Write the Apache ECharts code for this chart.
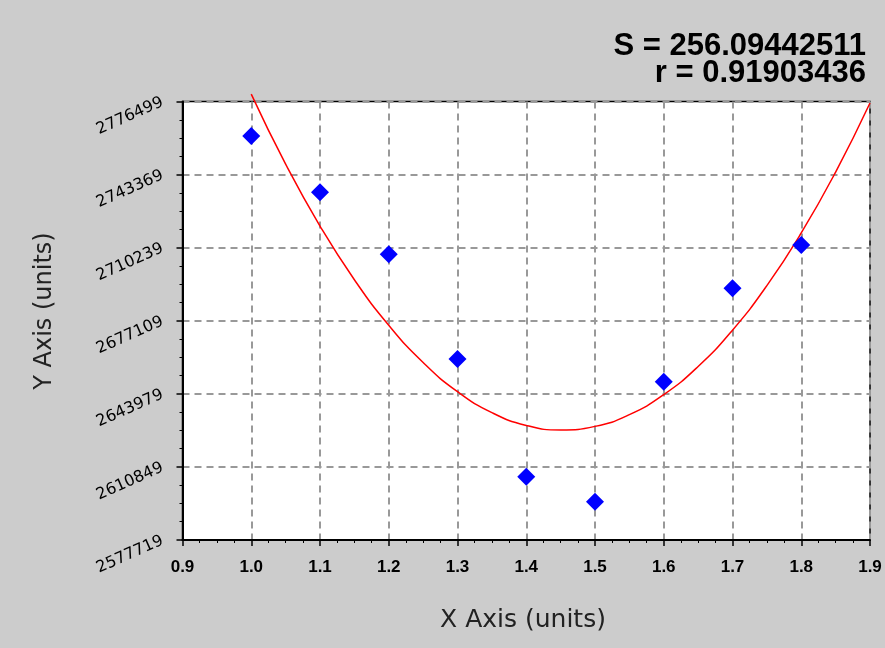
<!DOCTYPE html>
<html>
<head>
<meta charset="utf-8">
<script src="https://cdn.jsdelivr.net/npm/echarts@6/dist/echarts.min.js"></script>
<style>
html,body{margin:0;padding:0;background:#cccccc;}
#c{width:885px;height:648px;}
</style>
</head>
<body>
<div id="c"></div>
<script>
// Observed data points
var pointX = [1.0, 1.1, 1.2, 1.3, 1.4, 1.5, 1.6, 1.7, 1.8];
var pointY = [2760852, 2735331, 2707227, 2659766, 2606413, 2595080, 2649476, 2691815, 2711442];
// Fitted curve
var curveX = [1.0, 1.05, 1.1, 1.15, 1.2, 1.25, 1.3, 1.35, 1.4, 1.45, 1.5, 1.55, 1.6, 1.65, 1.7, 1.75, 1.8, 1.85, 1.9];
var curveY = [2779829, 2748076, 2720032, 2695698, 2675073, 2658158, 2644952, 2635456, 2629669, 2627592, 2629224, 2634566, 2643617, 2656377, 2672848, 2693027, 2716916, 2744515, 2775823];
// Axis ticks
var yTicks = [2577719, 2610849, 2643979, 2677109, 2710239, 2743369, 2776499];
var xTicks = [0.9, 1.0, 1.1, 1.2, 1.3, 1.4, 1.5, 1.6, 1.7, 1.8, 1.9];
var statS = "S = 256.09442511";
var statR = "r = 0.91903436";
var xName = "X Axis (units)";
var yName = "Y Axis (units)";

var chart = echarts.init(document.getElementById('c'));
var pts = pointX.map(function(x,i){return [x, pointY[i]];});
var crv = curveX.map(function(x,i){return [x, curveY[i]];});
var yMin = yTicks[0], yMax = yTicks[yTicks.length-1];
var yInt = yTicks[1]-yTicks[0];
chart.setOption({
  backgroundColor: '#cccccc',
  animation: false,
  grid: {left: 182.5, right: 15, top: 101.5, bottom: 108, show: true, backgroundColor: '#ffffff', borderColor: '#000000', borderWidth: 1.5},
  graphic: [
    {type: 'text', right: 19, top: 31, style: {text: statS, align: 'right', fontFamily: 'Liberation Sans', fontSize: 31, fontWeight: 'bold', fill: '#000'}},
    {type: 'text', right: 19, top: 58, style: {text: statR, align: 'right', fontFamily: 'Liberation Sans', fontSize: 31, fontWeight: 'bold', fill: '#000'}},
    {type: 'text', x: 523, y: 620, style: {text: xName, align: 'center', verticalAlign: 'middle', fontFamily: 'DejaVu Sans', fontSize: 25, fill: '#222'}},
    {type: 'text', x: 45, y: 311, rotation: Math.PI/2, style: {text: yName, align: 'center', verticalAlign: 'middle', fontFamily: 'DejaVu Sans', fontSize: 24, fill: '#222'}}
  ],
  xAxis: {
    type: 'value', min: xTicks[0], max: xTicks[xTicks.length-1], interval: 0.1,
    axisLine: {show: true, lineStyle: {color: '#000', width: 2}},
    axisTick: {show: true, length: 6, lineStyle: {color: '#000', width: 1.5}},
    minorTick: {show: true, splitNumber: 4, length: 3, lineStyle: {color: '#000'}},
    axisLabel: {fontFamily: 'Liberation Sans', fontWeight: 'bold', fontSize: 17, color: '#000', margin: 19,
      formatter: function(v){return v.toFixed(1);}},
    splitLine: {show: true, lineStyle: {color: '#999', width: 2, type: [7,5]}}
  },
  yAxis: {
    type: 'value', min: yMin, max: yMax, interval: yInt,
    axisLine: {show: true, lineStyle: {color: '#000', width: 2}},
    axisTick: {show: true, length: 6, lineStyle: {color: '#000', width: 1.5}},
    minorTick: {show: true, splitNumber: 4, length: 3, lineStyle: {color: '#000'}},
    axisLabel: {fontFamily: 'DejaVu Sans', fontSize: 16, color: '#000', rotate: 24, margin: 20,
      formatter: function(v){return String(Math.round(v));}},
    splitLine: {show: true, lineStyle: {color: '#999', width: 2, type: [7,5]}}
  },
  series: [
    {type: 'line', data: crv, smooth: true, clip: false, showSymbol: false, lineStyle: {color: '#ff0000', width: 1.5}, z: 3},
    {type: 'scatter', data: pts, symbol: 'diamond', symbolSize: 18, itemStyle: {color: '#0000ff', opacity: 1}, z: 4}
  ]
});
</script>
</body>
</html>
